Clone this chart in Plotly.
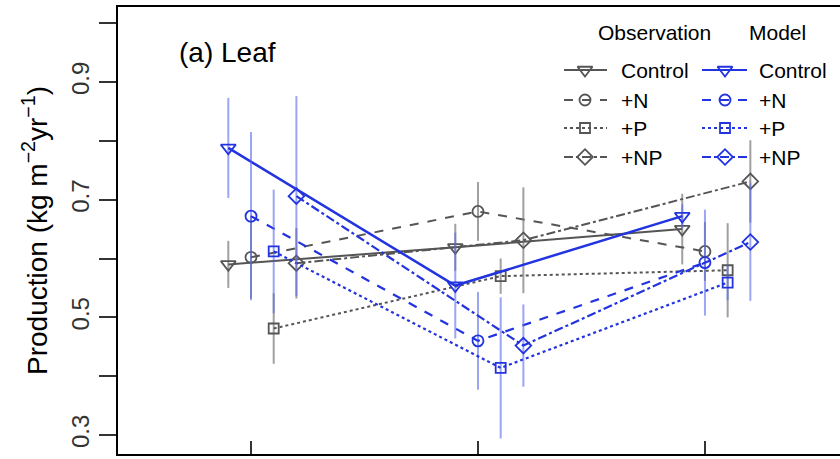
import plotly.graph_objects as go

groups = [1, 2, 3]
treatments = ["Control", "+N", "+P", "+NP"]
offsets = [-0.1, 0.0, 0.1, 0.2]

obs_values = {
    "Control": [0.590, 0.619, 0.650],
    "+N": [0.602, 0.680, 0.612],
    "+P": [0.481, 0.570, 0.580],
    "+NP": [0.592, 0.631, 0.731],
}
obs_errors = {
    "Control": [0.04, 0.04, 0.06],
    "+N": [0.07, 0.05, 0.05],
    "+P": [0.06, 0.03, 0.08],
    "+NP": [0.06, 0.09, 0.07],
}
mod_values = {
    "Control": [0.788, 0.554, 0.672],
    "+N": [0.672, 0.460, 0.593],
    "+P": [0.612, 0.414, 0.559],
    "+NP": [0.706, 0.452, 0.628],
}
mod_errors = {
    "Control": [0.085, 0.09, 0.02],
    "+N": [0.143, 0.083, 0.09],
    "+P": [0.105, 0.12, 0.03],
    "+NP": [0.17, 0.07, 0.10],
}
y_label_vals = [0.3, 0.5, 0.7, 0.9]
y_label_text = ["0.3", "0.5", "0.7", "0.9"]
y_minor_vals = [0.4, 0.6, 0.8, 1.0]

symbols = {"Control": "triangle-down-open", "+N": "circle-open",
           "+P": "square-open", "+NP": "diamond-open"}
sizes = {"Control": 13, "+N": 11, "+P": 10, "+NP": 12}
dashes = {"Control": "solid", "+N": "dash", "+P": "dot", "+NP": "dashdot"}

OBS_LINE = "#555555"
OBS_ERR = "rgba(120,120,120,0.7)"
MOD_LINE = "#2233e0"
MOD_ERR = "rgba(90,105,235,0.6)"

fig = go.Figure()

for t, off in zip(treatments, offsets):
    xs = [g + off for g in groups]
    fig.add_trace(go.Scatter(
        x=xs, y=obs_values[t], mode="lines+markers",
        line=dict(color=OBS_LINE, width=2, dash=dashes[t]),
        marker=dict(symbol=symbols[t], size=sizes[t], color=OBS_LINE,
                    line=dict(width=1.8, color=OBS_LINE)),
        error_y=dict(type="data", array=obs_errors[t], color=OBS_ERR,
                     thickness=2, width=0),
        showlegend=False, hoverinfo="skip"))

for t, off in zip(treatments, offsets):
    xs = [g + off for g in groups]
    fig.add_trace(go.Scatter(
        x=xs, y=mod_values[t], mode="lines+markers",
        line=dict(color=MOD_LINE, width=2.5 if t == "Control" else 2.2, dash=dashes[t]),
        marker=dict(symbol=symbols[t], size=sizes[t], color=MOD_LINE,
                    line=dict(width=1.8, color=MOD_LINE)),
        error_y=dict(type="data", array=mod_errors[t], color=MOD_ERR,
                     thickness=2, width=0),
        showlegend=False, hoverinfo="skip"))

# custom legend on a pixel-based overlay axis
row_y = [70, 100, 128, 157]
for i, t in enumerate(treatments):
    for (x0, x1, xm, col, w) in [(564, 607, 585, OBS_LINE, 2),
                                 (702, 747, 725, MOD_LINE, 2.2)]:
        fig.add_trace(go.Scatter(
            x=[x0, x1], y=[row_y[i], row_y[i]], mode="lines",
            line=dict(color=col, width=w, dash=dashes[t]),
            xaxis="x2", yaxis="y2", showlegend=False, hoverinfo="skip"))
        fig.add_trace(go.Scatter(
            x=[xm], y=[row_y[i]], mode="markers",
            marker=dict(symbol=symbols[t], size=sizes[t], color=col,
                        line=dict(width=1.8, color=col)),
            xaxis="x2", yaxis="y2", showlegend=False, hoverinfo="skip"))
    for xt in (619, 757):
        fig.add_annotation(x=xt, y=row_y[i], xref="x2", yref="y2", text=t,
                           showarrow=False, xanchor="left", yanchor="middle",
                           font=dict(size=21, color="black"))

fig.add_annotation(x=654, y=32, xref="x2", yref="y2", text="Observation",
                   showarrow=False, xanchor="center", yanchor="middle",
                   font=dict(size=21, color="black"))
fig.add_annotation(x=777, y=32, xref="x2", yref="y2", text="Model",
                   showarrow=False, xanchor="center", yanchor="middle",
                   font=dict(size=21, color="black"))
fig.add_annotation(x=227, y=52, xref="x2", yref="y2", text="(a) Leaf",
                   showarrow=False, xanchor="center", yanchor="middle",
                   font=dict(size=28, color="black"))

fig.update_layout(
    width=840, height=459,
    margin=dict(l=118, r=0, t=7, b=5, autoexpand=False),
    paper_bgcolor="white", plot_bgcolor="white",
    font=dict(family="Liberation Sans, Arial, sans-serif", color="black"),
    xaxis=dict(range=[0.414, 3.595], tickvals=groups, showticklabels=False,
               ticks="inside", ticklen=13, tickwidth=1.5, tickcolor="#333",
               showline=True, linecolor="black", linewidth=2, mirror=True,
               showgrid=False, zeroline=False, automargin=False),
    yaxis=dict(range=[0.2677, 1.0275], tickvals=y_label_vals, ticktext=y_label_text,
               ticks="outside", ticklen=17, tickwidth=1.5, tickcolor="#333",
               minor=dict(tickvals=y_minor_vals, ticks="outside", ticklen=17,
                          tickwidth=1.5, tickcolor="#333", showgrid=False),
               tickangle=-90, tickfont=dict(size=24, color="#333"),
               showline=True, linecolor="black", linewidth=2, mirror=False,
               showgrid=False, zeroline=False, automargin=False,
               title=dict(text="Production (kg m<sup>−2</sup>yr<sup>−1</sup>)",
                          font=dict(size=28, color="black"), standoff=12)),
    xaxis2=dict(range=[118, 840], overlaying="x", visible=False, fixedrange=True),
    yaxis2=dict(range=[454, 7], overlaying="y", visible=False, fixedrange=True),
)

fig.write_html("out.html",
               config={"displayModeBar": False},
               post_script="document.body.style.margin='0px';document.body.style.overflow='hidden';")
